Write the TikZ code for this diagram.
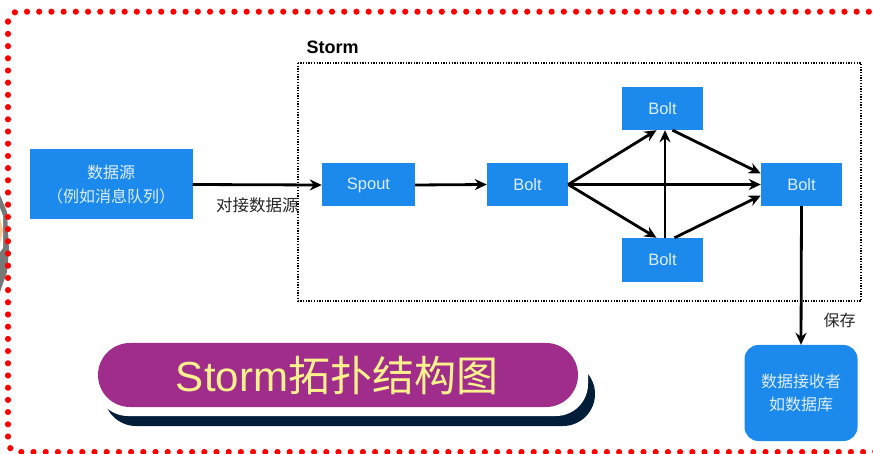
\documentclass[tikz,border=0pt]{standalone}
\usepackage{fontspec}
\setmainfont{Liberation Sans}
\newfontfamily\cjk{Noto Sans CJK SC}
\usetikzlibrary{arrows.meta,calc}
\definecolor{boxblue}{RGB}{28,138,236}
\definecolor{boxtext}{RGB}{222,238,255}
\definecolor{titlepurple}{RGB}{160,44,140}
\definecolor{titleyellow}{RGB}{255,242,140}
\definecolor{navyshadow}{RGB}{0,30,58}
\definecolor{dotred}{RGB}{255,0,0}
\definecolor{decogray}{RGB}{120,120,120}
\definecolor{decoorange}{RGB}{250,200,150}
\begin{document}
\begin{tikzpicture}[x=1pt,y=-1pt,
  bluebox/.style={fill=boxblue, draw=none, text=boxtext, inner sep=0pt, align=center},
  boltbox/.style={bluebox, minimum width=81pt, minimum height=43pt, font=\fontsize{16.5}{16.5}\selectfont},
  arr/.style={draw=black, line width=2.8pt, -{Stealth[length=12pt,width=11pt]}},
  lbl/.style={font=\cjk\fontsize{16}{16}\selectfont, text=black!85},
  redframe/.style={draw=dotred, line width=6.2pt, line cap=round, dash pattern=on 0pt off 12.2pt, rounded corners=10pt},
  pill/.style={rounded corners=32pt}
]
\useasboundingbox (0,0) rectangle (873,454);
\fill[white] (0,0) rectangle (873,454);

% left edge decoration
\begin{scope}
\clip (0,0) rectangle (873,454);
\fill[decogray] (0,195) -- (7,212) -- (9,250) -- (7,272) -- (0,292) -- cycle;
\fill[white] (0,208) -- (3,216) -- (3,248) -- (0,252) -- cycle;
\fill[decoorange] (0,218) -- (3,230) -- (0,244) -- cycle;
% red dotted frame
\draw[redframe] (8,11.7) rectangle (882,452);
\end{scope}

% Storm container
\draw[line width=2.2pt, dash pattern=on 1.3pt off 1.4pt] (298,63) rectangle (861,301);
\node[font=\bfseries\fontsize{18}{18}\selectfont, anchor=west] (stormlbl) at (303,47) {Storm};

% nodes
\node[bluebox, minimum width=163pt, minimum height=70pt, font=\cjk\fontsize{16}{24}\selectfont] (src) at (111,184.5) {数据源\\（例如消息队列）};
\node[boltbox, minimum width=93pt] (spout) at (368.5,185) {Spout};
\node[boltbox] (b1) at (527.5,184.5) {Bolt};
\node[boltbox] (bt) at (662.5,108.5) {Bolt};
\node[boltbox, minimum height=44pt] (bb) at (662.5,260) {Bolt};
\node[boltbox] (br) at (801.5,184.5) {Bolt};
\node[bluebox, minimum width=113pt, minimum height=96pt, rounded corners=14pt, font=\cjk\fontsize{16}{23}\selectfont] (recv) at (801,393) {数据接收者\\如数据库};

% connectors
\draw[arr] (src.east) -- node[lbl, below=8pt, font=\cjk\fontsize{16.5}{16.5}\selectfont] (lblsrc) {对接数据源} (spout.west);
\draw[arr] (spout.east) -- (b1.west);
\draw[arr] (b1.east) -- ([xshift=-6pt]bt.south);
\draw[arr] (b1.east) -- ([xshift=-6pt]bb.north);
\draw[arr] (b1.east) -- (br.west);
\draw[arr] ([xshift=2.5pt]bb.north) -- ([xshift=2.5pt]bt.south);
\draw[arr] ([xshift=10pt]bt.south) -- ([yshift=11pt]br.west);
\draw[arr] ([xshift=12pt]bb.north) -- ([yshift=-11pt]br.west);
\draw[arr] (br.south) -- (recv.north);
\node[lbl, anchor=west] (lblsave) at (820,320) {保存};

% title banner
\fill[navyshadow, pill] (104,362) rectangle (595,426);
\fill[white, pill] (96,341) rectangle (588,416);
\fill[titlepurple, pill] (98,343) rectangle (578,407);
\node[text=titleyellow, inner sep=0pt] (title) at (337,376) {\fontsize{42}{42}\selectfont Storm{\cjk 拓扑结构图}};
\end{tikzpicture}
\end{document}
